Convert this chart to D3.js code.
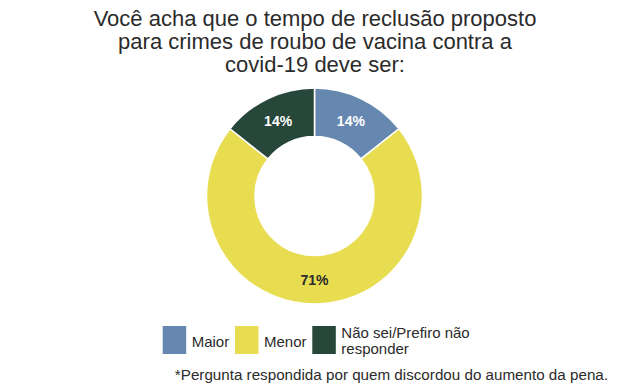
<!DOCTYPE html>
<html>
<head>
<meta charset="utf-8">
<script src="https://cdn.jsdelivr.net/npm/d3@7"></script>
<style>
body{margin:0;background:#fff;}
text{font-family:"Liberation Sans",Arial,sans-serif;}
</style>
</head>
<body>
<svg id="chart" width="617" height="390"></svg>
<script>
const titleLines = ["Você acha que o tempo de reclusão proposto","para crimes de roubo de vacina contra a","covid-19 deve ser:"];
const categories = ["Maior","Menor","Não sei/Prefiro não responder"];
const legendLabels = [["Maior"],["Menor"],["Não sei/Prefiro não","responder"]];
const values = [14.3, 71.4, 14.3];
const valueLabels = ["14%","71%","14%"];
const colors = ["#6688b0","#e8dd50","#27473b"];
const labelColors = ["#ffffff","#2b2b2b","#ffffff"];
const footnote = "*Pergunta respondida por quem discordou do aumento da pena.";

const svg = d3.select("#chart");
const cx = 314.5, cy = 196, rOuter = 108, rInner = 59.5;

svg.append("g").selectAll("text").data(titleLines).join("text")
  .attr("x", 315).attr("y",(d,i)=>25.5+i*23.3)
  .attr("text-anchor","middle").attr("font-size",22).attr("fill","#2b2b2b")
  .text(d=>d);

const data = categories.map((c,i)=>({cat:c,value:values[i],label:valueLabels[i],color:colors[i],lc:labelColors[i]}));
const pie = d3.pie().value(d=>d.value).sort(null);
const arc = d3.arc().innerRadius(rInner).outerRadius(rOuter);
const arcs = pie(data);
const g = svg.append("g").attr("transform",`translate(${cx},${cy})`);
g.selectAll("path").data(arcs).join("path")
  .attr("d",arc).attr("fill",d=>d.data.color).attr("stroke","#fff").attr("stroke-width",1.5);
g.selectAll("text").data(arcs).join("text")
  .attr("transform",d=>`translate(${arc.centroid(d)})`)
  .attr("text-anchor","middle").attr("dy","0.36em")
  .attr("font-size",14).attr("font-weight","bold").attr("fill",d=>d.data.lc)
  .text(d=>d.data.label);

const legX = [162.7, 235, 312.3];
const lg = svg.append("g");
data.forEach((d,i)=>{
  lg.append("rect").attr("x",legX[i]).attr("y",326).attr("width",23.5).attr("height",28).attr("fill",d.color);
  const lines = legendLabels[i];
  lines.forEach((l,j)=>{
    lg.append("text").attr("font-size",15).attr("fill","#2b2b2b")
      .attr("x",legX[i]+29).attr("y", lines.length===1 ? 346.5 : 338+j*15.5).text(l);
  });
});

svg.append("text").attr("x",608).attr("y",380).attr("text-anchor","end")
  .attr("font-size",15.2).attr("fill","#2b2b2b").text(footnote);
</script>
</body>
</html>
